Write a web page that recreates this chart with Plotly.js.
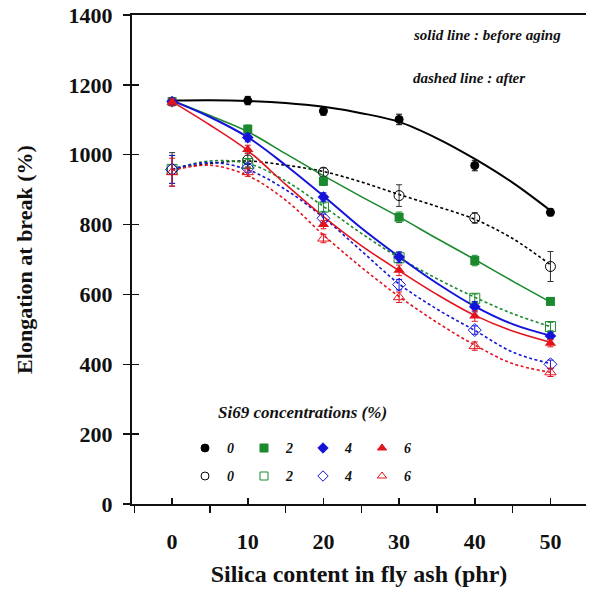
<!DOCTYPE html>
<html>
<head>
<meta charset="utf-8">
<script src="https://cdn.plot.ly/plotly-3.0.1.min.js"></script>
<style>html,body{margin:0;padding:0;background:#fff;}#chart{width:590px;height:597px;}</style>
</head>
<body>
<div id="chart"></div>
<script>
// ---------- data ----------
const silica = [0, 10, 20, 30, 40, 50];
const before0 = [1152, 1155, 1125, 1101, 969, 835];
const before2 = [1152, 1073, 924, 821, 697, 580];
const before4 = [1152, 1049, 879, 707, 565, 481];
const before6 = [1150, 1015, 800, 669, 538, 460];
const after0 = [958, 985, 950, 883, 819, 680];
const after2 = [958, 975, 850, 705, 589, 508];
const after4 = [958, 962, 818, 628, 498, 400];
const after6 = [950, 950, 760, 592, 452, 377];
const errBefore = [10, 12, 12, 15, 15, 10];
const errAfter0 = [48, 20, 12, 31, 15, 43];
const errAfter = [40, 12, 12, 15, 12, 12];

// fitted curves, read at every 5 phr
const fitX = [0, 5, 10, 15, 20, 25, 30, 35, 40, 45, 50];
const fitBefore0 = [1155, 1156, 1154, 1148, 1137, 1119, 1094, 1047, 988, 920, 840];
const fitBefore2 = [1155, 1112, 1066, 1003, 940, 880, 822, 760, 700, 638, 578];
const fitBefore4 = [1155, 1108, 1050, 970, 882, 790, 708, 632, 566, 515, 482];
const fitBefore6 = [1152, 1085, 1012, 915, 823, 740, 668, 600, 540, 495, 463];
const fitAfter0 = [958, 975, 982, 970, 952, 922, 886, 852, 815, 760, 685];
const fitAfter2 = [958, 982, 975, 925, 852, 775, 705, 645, 592, 545, 508];
const fitAfter4 = [958, 978, 957, 900, 820, 725, 630, 558, 497, 435, 402];
const fitAfter6 = [955, 970, 940, 870, 770, 678, 594, 520, 455, 402, 377];

const concLabels = ['0', '2', '4', '6'];
const seriesColors = ['#000000', '#1b8a2e', '#1414d9', '#e3141e'];
const filledSymbols = ['circle', 'square', 'diamond', 'triangle-up'];
const openSymbols = ['circle-open', 'square-open', 'diamond-open', 'triangle-up-open'];

// ---------- styling ----------
const SERIF = 'Liberation Serif, Times New Roman, serif';
const beforeSets = [before0, before2, before4, before6];
const afterSets = [after0, after2, after4, after6];
const fitBeforeSets = [fitBefore0, fitBefore2, fitBefore4, fitBefore6];
const fitAfterSets = [fitAfter0, fitAfter2, fitAfter4, fitAfter6];
const afterErrs = [errAfter0, errAfter, errAfter, errAfter];

const traces = [];
// dashed fitted curves (after aging)
for (let i = 0; i < 4; i++) {
  traces.push({
    x: fitX, y: fitAfterSets[i], mode: 'lines', type: 'scatter', showlegend: false,
    line: {color: seriesColors[i], width: 1.6, dash: '3px,2.5px', shape: 'spline', smoothing: 1},
    hoverinfo: 'skip'
  });
}
// solid fitted curves (before aging)
for (let i = 0; i < 4; i++) {
  traces.push({
    x: fitX, y: fitBeforeSets[i], mode: 'lines', type: 'scatter', showlegend: false,
    line: {color: seriesColors[i], width: i === 0 || i === 2 ? 2 : 1.6, shape: 'spline', smoothing: 1},
    hoverinfo: 'skip'
  });
}
// open markers (after aging)
for (let i = 0; i < 4; i++) {
  traces.push({
    x: silica, y: afterSets[i], mode: 'markers', type: 'scatter', showlegend: false,
    name: concLabels[i] + ' after',
    marker: {symbol: openSymbols[i], size: 10, color: seriesColors[i], line: {width: 1, color: seriesColors[i]}},
    error_y: {type: 'data', array: afterErrs[i], visible: true, color: i === 0 ? '#333' : seriesColors[i], thickness: 1, width: 3}
  });
}
// filled markers (before aging)
for (let i = 0; i < 4; i++) {
  traces.push({
    x: silica, y: beforeSets[i], mode: 'markers', type: 'scatter', showlegend: false,
    name: concLabels[i] + ' before',
    marker: {symbol: filledSymbols[i], size: i === 3 ? 10 : 9, color: seriesColors[i]},
    error_y: {type: 'data', array: errBefore, visible: true, color: seriesColors[i], thickness: 1, width: 3}
  });
}

// ---------- custom legend (paper-fraction overlay axes) ----------
const plotL = 132, plotR = 586, plotT = 15, plotB = 504;
const pw = plotR - plotL, ph = plotB - plotT;
const px2fx = p => (p - plotL) / pw;
const py2fy = p => (plotB - p) / ph;
const legCol0 = 205, legColStep = 59, legRowFilled = 448, legRowOpen = 476, legTextOffset = 25;

const legX = [], legY = [], legSym = [], legCol = [];
for (let i = 0; i < 4; i++) {
  legX.push(px2fx(legCol0 + i * legColStep)); legY.push(py2fy(legRowFilled));
  legSym.push(filledSymbols[i]); legCol.push(seriesColors[i]);
  legX.push(px2fx(legCol0 + i * legColStep)); legY.push(py2fy(legRowOpen));
  legSym.push(openSymbols[i]); legCol.push(seriesColors[i]);
}
traces.push({
  x: legX, y: legY, xaxis: 'x2', yaxis: 'y2', mode: 'markers', type: 'scatter', showlegend: false,
  hoverinfo: 'skip',
  marker: {symbol: legSym, size: 8, color: legCol, line: {width: 1, color: legCol}}
});
// invisible trace to attach the inner tick axis
traces.push({x: [silica[0]], y: [0], xaxis: 'x', yaxis: 'y3', mode: 'markers',
  marker: {opacity: 0}, showlegend: false, hoverinfo: 'skip'});

const annotations = [
  {text: 'solid line : before aging', xref: 'paper', yref: 'paper', x: px2fx(411), y: py2fy(35),
   xanchor: 'left', yanchor: 'middle', showarrow: false,
   font: {family: SERIF, size: 15, style: 'italic', weight: 'bold', color: '#111'}},
  {text: 'dashed line : after', xref: 'paper', yref: 'paper', x: px2fx(411), y: py2fy(78),
   xanchor: 'left', yanchor: 'middle', showarrow: false,
   font: {family: SERIF, size: 15, style: 'italic', weight: 'bold', color: '#111'}},
  {text: 'Si69 concentrations (%)', xref: 'paper', yref: 'paper', x: px2fx(216), y: py2fy(412),
   xanchor: 'left', yanchor: 'middle', showarrow: false,
   font: {family: SERIF, size: 17, style: 'italic', weight: 'bold', color: '#111'}}
];
for (let i = 0; i < 4; i++) {
  [legRowFilled, legRowOpen].forEach(row => {
    annotations.push({text: concLabels[i], xref: 'paper', yref: 'paper',
      x: px2fx(legCol0 + i * legColStep + legTextOffset), y: py2fy(row),
      xanchor: 'center', yanchor: 'middle', showarrow: false,
      font: {family: SERIF, size: 14, style: 'italic', weight: 'bold', color: '#111'}});
  });
}

const tickFont = {family: SERIF, size: 22, weight: 'bold', color: '#111'};
const layout = {
  width: 590, height: 597,
  margin: {l: plotL, r: 590 - plotR, t: plotT, b: 597 - plotB},
  paper_bgcolor: '#ffffff', plot_bgcolor: '#ffffff',
  showlegend: false,
  xaxis: {
    range: [-5.3, 54.7], tick0: 0, dtick: 10, ticks: 'inside', ticklen: 6, tickwidth: 1.5, tickcolor: '#111',
    showline: true, linewidth: 2, linecolor: '#111', mirror: true,
    showgrid: false, zeroline: false, tickfont: tickFont, ticklabelstandoff: 17,
    minor: {tick0: -5, dtick: 10, ticks: 'outside', ticklen: 7, tickwidth: 1.5, tickcolor: '#111', showgrid: false},
    title: {text: 'Silica content in fly ash (phr)', font: {family: SERIF, size: 24, weight: 'bold', color: '#111'}, standoff: 12}
  },
  yaxis: {
    range: [0, 1400], tick0: 0, dtick: 200, ticks: 'outside', ticklen: 7, tickwidth: 1.5, tickcolor: '#111',
    showline: true, linewidth: 2, linecolor: '#111', mirror: false,
    showgrid: false, zeroline: false, tickfont: tickFont, ticklabelstandoff: 6,
    title: {text: 'Elongation at break (%)', font: {family: SERIF, size: 22, weight: 'bold', color: '#111'}, standoff: 30}
  },
  yaxis3: {
    overlaying: 'y', anchor: 'x', side: 'left', range: [0, 1400], tick0: 0, dtick: 200,
    ticks: 'inside', ticklen: 7, tickwidth: 1.5, tickcolor: '#111',
    showticklabels: false, showline: false, showgrid: false, zeroline: false
  },
  xaxis2: {overlaying: 'x', anchor: 'y2', range: [0, 1], visible: false, fixedrange: true},
  yaxis2: {overlaying: 'y', anchor: 'x2', range: [0, 1], visible: false, fixedrange: true},
  annotations: annotations
};

Plotly.newPlot('chart', traces, layout, {staticPlot: true, displayModeBar: false});
</script>
</body>
</html>
